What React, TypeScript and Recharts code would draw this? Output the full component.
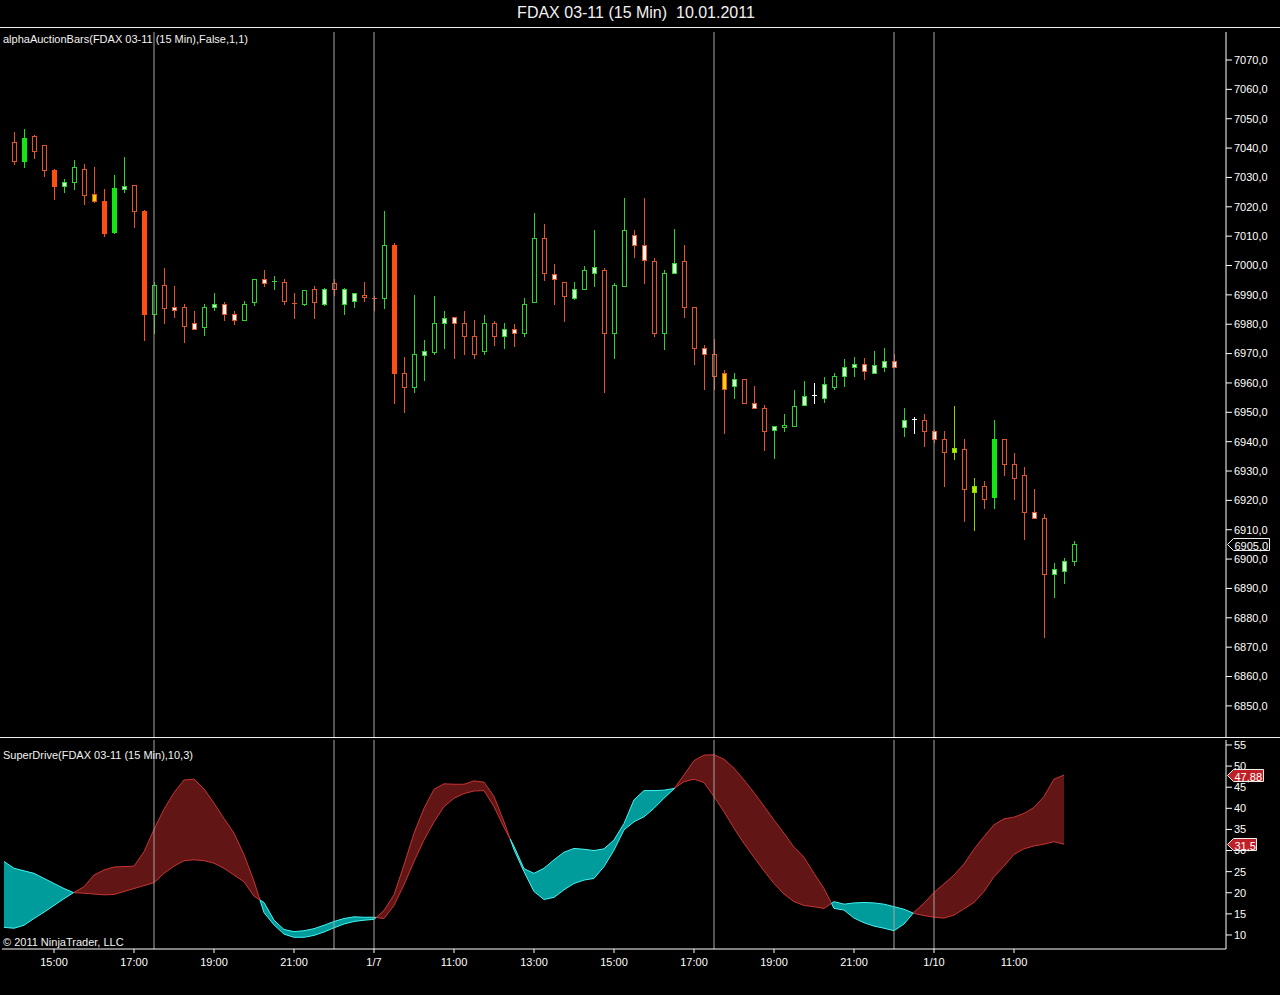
import React from "react";
import { ComposedChart, Bar, Area, Line, XAxis, YAxis, ReferenceLine } from "recharts";

// FDAX 03-11, 15 min bars (index 0 = first bar on 1/6)
const opens = [
  7042, 7035.5, 7044, 7041, 7032.5, 7027, 7028.5, 7033, 7024.5, 7022,
  7011.5, 7026, 7027.5, 7018.5, 6983.5, 6993.5, 6986, 6986, 6980.5, 6979,
  6986, 6987, 6983.5, 6981.5, 6987.5, 6995.5, 6994.5, 6994.5, 6987.2, 6987,
  6992, 6987, 6992, 6992, 6988, 6989.2, 6989, 6989, 7007, 6963.5,
  6958.5, 6969.5, 6970.5, 6980.5, 6982.5, 6980.5, 6976, 6971, 6980.5, 6976,
  6978.5, 6977, 6987.5, 7009.5, 6997, 6994.5, 6989, 6992, 6997.5, 6998.5,
  6977, 6993, 7010.5, 7007, 7001.5, 6977, 6997.5, 7001.5, 6986, 6972,
  6970, 6963.5, 6959, 6961.5, 6953, 6951.5, 6944, 6945.1, 6945.5, 6952.5,
  6956, 6955, 6958.5, 6962.5, 6965.5, 6966.5, 6963.5, 6965.5, 6967.5, 6945,
  6947.8, 6947.5, 6943.5, 6941, 6936.5, 6937.5, 6923, 6925, 6921, 6941,
  6932.5, 6928.5, 6916, 6914, 6895, 6896, 6899.5,
];
const highs = [
  7045.5, 7046.5, 7044.5, 7041, 7033, 7029.5, 7036, 7034.5, 7033.5, 7026,
  7031, 7037, 7027.5, 7019, 6994.5, 6999, 6993, 6987, 6984.5, 6987,
  6990.5, 6987.5, 6984.5, 6988, 6995.5, 6998.5, 6996.5, 6995.5, 6990.5, 6991.5,
  6993, 6992.5, 6995.5, 6992.5, 6990.5, 6994.5, 6989.5, 7018.5, 7007.5, 6969,
  6990, 6974.5, 6989.5, 6984.5, 6982.5, 6984.5, 6981.5, 6983, 6981, 6980.5,
  6980, 6989, 7018, 7014, 7000.5, 6994.5, 6994.5, 7000, 7012, 6999,
  6994, 7023, 7012, 7023, 7002.5, 6998.5, 7012.5, 7007, 6986, 6973,
  6975, 6964.5, 6963.5, 6961.5, 6959, 6952.5, 6945.5, 6949.5, 6957.5, 6960.5,
  6960, 6962, 6963.5, 6968, 6969, 6968.5, 6971, 6972, 6970, 6951.5,
  6948.5, 6949.5, 6944, 6943.5, 6952, 6941, 6927.5, 6926.5, 6947.5, 6941,
  6936, 6931.5, 6924, 6915.5, 6898.5, 6900.5, 6906,
];
const lows = [
  7034.5, 7033.5, 7036.5, 7030.5, 7022.5, 7025, 7026, 7021, 7021.5, 7010,
  7011, 7025, 7013, 6974.5, 6977, 6980.5, 6982.5, 6974, 6978.5, 6976.5,
  6985, 6981.5, 6980, 6981.5, 6986.5, 6993, 6992, 6987, 6982, 6986.5,
  6982, 6986.5, 6990, 6983.5, 6986, 6988, 6985, 6985.5, 6953, 6950,
  6957, 6961, 6970, 6972, 6968.5, 6970, 6968.5, 6970, 6973, 6972,
  6972.5, 6976, 6987.5, 6995, 6987, 6981, 6988.5, 6992, 6993, 6957,
  6968.5, 6993, 7003, 6994, 6976, 6971.5, 6997.5, 6982.5, 6966.5, 6958,
  6958, 6943, 6955, 6953, 6951.5, 6937, 6934.5, 6943.5, 6945.5, 6952.5,
  6953, 6953.5, 6958, 6959, 6962.5, 6961.5, 6963.5, 6964, 6965.5, 6942,
  6943, 6938.5, 6940, 6925, 6934, 6913, 6910, 6917.5, 6917.5, 6928.5,
  6920.5, 6907, 6914, 6873.5, 6887, 6892, 6898,
];
const closes = [
  7035.5, 7043.5, 7039, 7032.5, 7027, 7028.5, 7033.5, 7024, 7022, 7011,
  7026.5, 7027, 7018.5, 6983.5, 6993.5, 6985.5, 6985, 6979.5, 6978.5, 6986,
  6987, 6983.5, 6981.5, 6987, 6995.5, 6994, 6994.8, 6988, 6987, 6991.5,
  6987.5, 6992, 6994, 6987, 6990.5, 6989.8, 6988.8, 7007, 6963.5, 6958.5,
  6970, 6971, 6980.5, 6982, 6980.5, 6976, 6970, 6980.5, 6976, 6978.5,
  6977, 6987, 7009.5, 6997.5, 6995.5, 6989.5, 6992, 6998.5, 6999.5, 6977,
  6993.5, 7012, 7007, 7002, 6977, 6997.5, 7001, 6986, 6972, 6970,
  6962.5, 6958, 6961.5, 6953, 6951.5, 6943.5, 6945.5, 6945.6, 6952, 6955.5,
  6955.8, 6959.5, 6962.5, 6965.5, 6966.5, 6964, 6966, 6967.5, 6965.5, 6947.5,
  6947.6, 6943.5, 6941, 6936.5, 6938, 6924, 6925, 6920.5, 6941, 6932.5,
  6927.5, 6916, 6914, 6895, 6896.5, 6899.5, 6905,
];
// bar paint: o hollow down, O solid down, w white down, y yellow down,
// g hollow up, G solid up, l light up, L lime up, x white doji
const barKinds = (
  "oGooOlgoyO" + "GloOgowowg" + "lwwggwgoog" + "ololloogOo" + "glglwoogol" +
  "wggowolglo" + "ggwwogloow" + "oylowolggl" + "xlgllwllwl" + "xowoLoLoGo" +
  "oowollg"
).split("");

// SuperDrive(10,3) lines, first value sits one bar left of bar 0
const fast = [
  11.8, 11.6, 12.3, 13.9, 15.4, 17.0, 18.6, 20.1, 21.4, 24.2,
  25.4, 26.1, 26.2, 26.3, 29.7, 35.0, 39.8, 43.7, 46.7, 46.9,
  44.6, 41.2, 37.6, 34.1, 29.0, 22.7, 15.3, 12.4, 10.2, 9.45,
  9.45, 9.9, 10.7, 11.7, 12.6, 13.2, 13.5, 13.7, 15.8, 19.5,
  26.6, 34.1, 40.0, 44.5, 45.8, 45.7, 45.7, 46.5, 46.2, 42.8,
  36.8, 30.2, 25.0, 20.3, 18.4, 18.9, 20.7, 22.2, 23.0, 23.4,
  26.2, 30.1, 34.9, 36.8, 38.0, 40.0, 42.4, 44.6, 47.9, 51.3,
  52.6, 52.7, 51.6, 49.5, 46.7, 43.7, 40.5, 37.2, 34.1, 30.8,
  28.4, 24.6, 21.0, 16.3, 15.9, 14.0, 12.9, 12.1, 11.6, 11.0,
  12.6, 15.4, 17.5, 20.1, 22.1, 24.2, 26.8, 30.3, 33.3, 36.1,
  37.5, 37.9, 38.8, 40.2, 42.8, 46.9, 47.88,
];
const slow = [
  27.4, 25.8, 25.2, 24.6, 23.4, 22.2, 21.0, 20.0, 19.9, 19.7,
  19.5, 19.6, 20.3, 21.0, 21.7, 22.4, 24.6, 26.3, 27.6, 27.8,
  27.6, 27.0, 25.8, 24.2, 22.6, 19.2, 17.7, 13.5, 11.3, 10.8,
  11.0, 11.5, 12.3, 13.2, 13.9, 14.3, 14.2, 14.2, 13.9, 17.0,
  21.9, 27.4, 32.5, 36.8, 40.4, 42.4, 43.5, 44.1, 44.2, 40.4,
  35.5, 31.0, 25.7, 24.6, 25.8, 27.8, 29.6, 30.5, 30.3, 30.0,
  30.4, 32.5, 36.4, 42.0, 44.2, 44.2, 44.3, 44.7, 46.3, 46.9,
  46.1, 42.8, 39.2, 35.3, 31.7, 28.4, 25.2, 22.2, 19.7, 17.9,
  17.0, 16.7, 16.3, 17.9, 17.3, 17.6, 17.7, 17.6, 17.3, 16.7,
  16.1, 15.1, 14.6, 14.2, 14.0, 14.7, 16.2, 17.7, 20.3, 23.8,
  26.3, 29.1, 30.4, 31.1, 31.5, 32.1, 31.5,
];

const timeTicks = [4, 12, 20, 28, 36, 44, 52, 60, 68, 76, 84, 92, 100];
const timeLabels = ["15:00", "17:00", "19:00", "21:00", "1/7", "11:00", "13:00",
  "15:00", "17:00", "19:00", "21:00", "1/10", "11:00"];
const sessionLines = [14, 32, 36, 70, 88, 92];
const priceTicks = [6850, 6860, 6870, 6880, 6890, 6900, 6910, 6920, 6930, 6940, 6950,
  6960, 6970, 6980, 6990, 7000, 7010, 7020, 7030, 7040, 7050, 7060, 7070];
const driveTicks = [10, 15, 20, 25, 30, 35, 40, 45, 50, 55];

const FONT = '"Liberation Sans", Arial, sans-serif';
const ORANGE = "#e0552a";
const GREEN = "#30d030";
const RED_FILL = "#621515";
const RED_LINE = "#c83434";
const CYAN_FILL = "#009c9c";
const CYAN_LINE = "#44f4f4";
const GRID = "#a4a4a4";
const TAG_RED = "#bf1f27";

const paint: Record<string, { stroke: string; fill: string }> = {
  o: { stroke: ORANGE, fill: "#000" },
  O: { stroke: "#ff4e12", fill: "#ff4e12" },
  w: { stroke: ORANGE, fill: "#fff2ea" },
  y: { stroke: ORANGE, fill: "#ffd200" },
  g: { stroke: GREEN, fill: "#000" },
  G: { stroke: "#14e614", fill: "#14e614" },
  l: { stroke: GREEN, fill: "#ccffcc" },
  L: { stroke: "#8cd400", fill: "#b0f000" },
  x: { stroke: "#ffffff", fill: "#ffffff" },
};

const candles = opens.map((open, i) => ({
  x: i,
  open,
  high: highs[i],
  low: lows[i],
  close: closes[i],
  kind: barKinds[i],
  range: [lows[i], highs[i]],
}));

const ribbon = (() => {
  const pts: any[] = [];
  const mk = (x: number, f: number, s: number) => {
    const up = f >= s;
    return {
      x,
      red: up ? [s, f] : null,
      cyan: up ? null : [f, s],
      fR: up ? f : null,
      sR: up ? s : null,
      fC: up ? null : f,
      sC: up ? null : s,
    };
  };
  for (let k = 0; k < fast.length; k++) {
    const x = k - 1;
    pts.push(mk(x, fast[k], slow[k]));
    if (k < fast.length - 1) {
      const d0 = fast[k] - slow[k];
      const d1 = fast[k + 1] - slow[k + 1];
      if (d0 >= 0 !== d1 >= 0) {
        const t = d0 / (d0 - d1);
        const v = fast[k] + t * (fast[k + 1] - fast[k]);
        pts.push({ x: x + t, red: [v, v], cyan: [v, v], fR: v, sR: v, fC: v, sC: v });
      }
    }
  }
  return pts;
})();

const X_DOMAIN: [number, number] = [-1.2, 121.2];
const DRIVE_DOMAIN: [number, number] = [6.68, 56.18];

function Candle(props: any) {
  const { x, y, width, height, payload } = props;
  if (payload == null || x == null) return null;
  const { open, close, high, low, kind } = payload;
  const top = Math.min(y, y + height);
  const h = Math.abs(height);
  const span = high - low || 1;
  const py = (p: number) => top + ((high - p) / span) * h;
  const cx = Math.round(x + width / 2) + 0.5;
  const c = paint[kind] || paint.o;
  const bt = Math.round(py(Math.max(open, close))) + 0.5;
  const bb = Math.round(py(Math.min(open, close))) + 0.5;
  return (
    <g shapeRendering="crispEdges">
      <line x1={cx} x2={cx} y1={Math.round(py(high))} y2={Math.round(py(low)) + 1} stroke={c.stroke} />
      {bb - bt < 2 ? (
        <line x1={cx - 2.5} x2={cx + 2.5} y1={bt} y2={bt} stroke={c.stroke} />
      ) : (
        <rect x={cx - 2} y={bt} width={4} height={bb - bt} fill={c.fill} stroke={c.stroke} />
      )}
    </g>
  );
}

function tag(text: string, w: number, fill: string) {
  return (p: any) => {
    const vb = p.viewBox || {};
    const x0 = Math.round((vb.x || 0) + (vb.width || 0)) + 1.5;
    const yc = Math.round(vb.y || 0) + 0.5;
    const pts = `${x0},${yc} ${x0 + 6},${yc - 6} ${x0 + w},${yc - 6} ${x0 + w},${yc + 6} ${x0 + 6},${yc + 6}`;
    return (
      <g>
        <polygon points={pts} fill={fill} stroke="#f0f0f0" strokeWidth={1} />
        <text x={x0 + 7} y={yc + 1} dominantBaseline="central" fill="#fff" fontSize={11} fontFamily={FONT}>
          {text}
        </text>
      </g>
    );
  };
}

const txt: React.CSSProperties = {
  position: "absolute",
  color: "#f2f2f2",
  fontFamily: FONT,
  fontSize: 11,
  lineHeight: "13px",
  whiteSpace: "nowrap",
};

export default function App() {
  const lastClose = closes[closes.length - 1];
  const lastFast = fast[fast.length - 1];
  const lastSlow = slow[slow.length - 1];
  return (
    <div style={{ position: "absolute", left: 0, top: 0, width: 1280, height: 995, background: "#000", overflow: "hidden" }}>
      <div style={{ position: "absolute", left: 0, top: 27, width: 1280, height: 1, background: "#f0f0f0" }} />
      <div style={{ position: "absolute", left: 0, top: 737, width: 1280, height: 1, background: "#f0f0f0" }} />

      <div style={{ position: "absolute", left: 0, top: 0 }}>
        <ComposedChart width={1280} height={740} data={candles} margin={{ top: 32, right: 0, bottom: 3, left: 2 }}>
          <XAxis dataKey="x" type="number" domain={X_DOMAIN} allowDataOverflow hide />
          <YAxis
            orientation="right"
            width={54}
            domain={[6839.4, 7079.54]}
            allowDataOverflow
            ticks={priceTicks}
            interval={0}
            tickFormatter={(v: number) => v.toFixed(1).replace(".", ",")}
            tick={{ fill: "#fff", fontSize: 11, fontFamily: FONT }}
            tickSize={6}
            tickMargin={2}
            axisLine={{ stroke: "#fff" }}
            tickLine={{ stroke: "#fff" }}
          />
          {sessionLines.map((s) => (
            <ReferenceLine key={s} x={s} stroke={GRID} />
          ))}
          <Bar dataKey="range" barSize={5} shape={<Candle />} isAnimationActive={false} />
          <ReferenceLine y={lastClose} stroke="none" label={tag(lastClose.toFixed(1).replace(".", ","), 42, "#000")} />
        </ComposedChart>
      </div>

      <div style={{ position: "absolute", left: 0, top: 737 }}>
        <ComposedChart width={1280} height={258} data={ribbon} margin={{ top: 3, right: 0, bottom: 16, left: 2 }}>
          <XAxis
            dataKey="x"
            type="number"
            domain={X_DOMAIN}
            allowDataOverflow
            ticks={timeTicks}
            interval={0}
            tickFormatter={(v: number) => timeLabels[timeTicks.indexOf(v)] ?? ""}
            tick={{ fill: "#fff", fontSize: 11, fontFamily: FONT }}
            tickSize={4}
            tickMargin={5}
            height={30}
            axisLine={{ stroke: "#fff" }}
            tickLine={{ stroke: "#fff" }}
          />
          <YAxis
            orientation="right"
            width={54}
            domain={DRIVE_DOMAIN}
            allowDataOverflow
            ticks={driveTicks}
            interval={0}
            tick={{ fill: "#fff", fontSize: 11, fontFamily: FONT }}
            tickSize={6}
            tickMargin={2}
            axisLine={{ stroke: "#fff" }}
            tickLine={{ stroke: "#fff" }}
          />
          <Area dataKey="red" type="linear" stroke="none" fill={RED_FILL} fillOpacity={1} isAnimationActive={false} />
          <Area dataKey="cyan" type="linear" stroke="none" fill={CYAN_FILL} fillOpacity={1} isAnimationActive={false} />
          <Line dataKey="fR" type="linear" stroke={RED_LINE} dot={false} activeDot={false} isAnimationActive={false} />
          <Line dataKey="sR" type="linear" stroke={RED_LINE} dot={false} activeDot={false} isAnimationActive={false} />
          <Line dataKey="fC" type="linear" stroke={CYAN_LINE} dot={false} activeDot={false} isAnimationActive={false} />
          <Line dataKey="sC" type="linear" stroke={CYAN_LINE} dot={false} activeDot={false} isAnimationActive={false} />
          {sessionLines.map((s) => (
            <ReferenceLine key={s} x={s} stroke={GRID} />
          ))}
        </ComposedChart>
      </div>

      {/* value tags for the indicator, laid over the axis labels */}
      <div style={{ position: "absolute", left: 0, top: 737 }}>
        <ComposedChart width={1280} height={258} data={ribbon} margin={{ top: 3, right: 54, bottom: 46, left: 2 }}>
          <XAxis dataKey="x" type="number" domain={X_DOMAIN} allowDataOverflow hide />
          <YAxis domain={DRIVE_DOMAIN} allowDataOverflow hide />
          <ReferenceLine y={lastFast} stroke="none" label={tag(String(lastFast).replace(".", ","), 36, TAG_RED)} />
          <ReferenceLine y={lastSlow} stroke="none" label={tag(String(lastSlow).replace(".", ","), 29, TAG_RED)} />
        </ComposedChart>
      </div>

      <div style={{ ...txt, left: 0, top: 5, width: 1272, textAlign: "center", fontSize: 16, lineHeight: "16px" }}>
        FDAX 03-11 (15 Min)&nbsp; 10.01.2011
      </div>
      <div style={{ ...txt, left: 3, top: 33 }}>alphaAuctionBars(FDAX 03-11 (15 Min),False,1,1)</div>
      <div style={{ ...txt, left: 3, top: 749 }}>SuperDrive(FDAX 03-11 (15 Min),10,3)</div>
      <div style={{ ...txt, left: 3, top: 936 }}>© 2011 NinjaTrader, LLC</div>
    </div>
  );
}
